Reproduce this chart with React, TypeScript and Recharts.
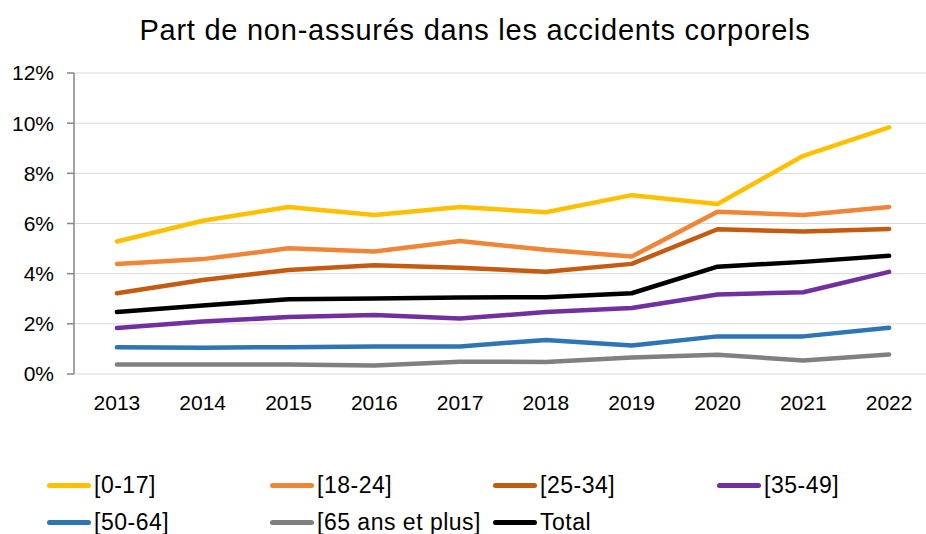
import { LineChart, Line, XAxis, YAxis, CartesianGrid } from 'recharts';

const years = ['2013', '2014', '2015', '2016', '2017', '2018', '2019', '2020', '2021', '2022'];

// part de non-assurés, en %
const age0_17 = [5.28, 6.11, 6.66, 6.34, 6.66, 6.45, 7.13, 6.78, 8.7, 9.83];
const age18_24 = [4.39, 4.58, 5.01, 4.88, 5.3, 4.95, 4.68, 6.47, 6.34, 6.66];
const age25_34 = [3.22, 3.75, 4.15, 4.34, 4.24, 4.08, 4.39, 5.77, 5.68, 5.78];
const age35_49 = [1.83, 2.09, 2.27, 2.35, 2.21, 2.47, 2.63, 3.17, 3.26, 4.07];
const age50_64 = [1.07, 1.05, 1.07, 1.1, 1.1, 1.36, 1.14, 1.5, 1.5, 1.84];
const age65plus = [0.38, 0.38, 0.38, 0.34, 0.49, 0.48, 0.66, 0.77, 0.54, 0.78];
const total = [2.47, 2.73, 2.98, 3.01, 3.05, 3.06, 3.22, 4.28, 4.47, 4.71];

const yTicks = [0, 2, 4, 6, 8, 10, 12];
const edgeTicks = [0, 1, 2, 3, 4, 5, 6, 7, 8, 9, 10];

const SERIES = [
  { key: 'a0', name: '[0-17]', values: age0_17, color: '#FFC000' },
  { key: 'a18', name: '[18-24]', values: age18_24, color: '#F08537' },
  { key: 'a25', name: '[25-34]', values: age25_34, color: '#C55A11' },
  { key: 'a35', name: '[35-49]', values: age35_49, color: '#7030A0' },
  { key: 'a50', name: '[50-64]', values: age50_64, color: '#2E75B6' },
  { key: 'a65', name: '[65 ans et plus]', values: age65plus, color: '#808080' },
  { key: 'tot', name: 'Total', values: total, color: '#000000' },
];

const FONT = "'Liberation Sans', Arial, sans-serif";

const chartData = years.map((y, i) => {
  const row: Record<string, string | number> = { year: y, idx: i + 0.5 };
  SERIES.forEach((s) => {
    row[s.key] = s.values[i];
  });
  return row;
});

// excel-style legend, 4 columns
const LEGEND_COLS = [47, 270, 493, 717];
const LEGEND_ROWS = [485, 522];

export default function App() {
  return (
    <div
      style={{
        position: 'absolute',
        left: 0,
        top: 0,
        width: 926,
        height: 534,
        overflow: 'hidden',
        background: '#fff',
        fontFamily: FONT,
      }}
    >
      <div
        style={{
          position: 'absolute',
          left: 0,
          top: 12,
          width: 950,
          textAlign: 'center',
          fontSize: 29,
          letterSpacing: '0.75px',
          color: '#000',
          lineHeight: '36px',
        }}
      >
        Part de non-assurés dans les accidents corporels
      </div>

      <LineChart
        width={945}
        height={534}
        data={chartData}
        margin={{ top: 73, right: 13, left: 14, bottom: 130 }}
      >
        <CartesianGrid vertical={false} stroke="#D9D9D9" strokeWidth={1} />
        {/* tick marks between categories */}
        <XAxis
          xAxisId="edges"
          type="number"
          dataKey="idx"
          domain={[0, 10]}
          ticks={edgeTicks}
          tick={false}
          tickSize={7}
          tickLine={{ stroke: '#868686', strokeWidth: 1.5 }}
          axisLine={{ stroke: '#868686', strokeWidth: 1.5 }}
          height={0}
        />
        <XAxis
          dataKey="year"
          xAxisId="cat"
          height={30}
          padding={{ left: 42.9, right: 42.9 }}
          tickLine={false}
          tickSize={0}
          tickMargin={21}
          axisLine={false}
          tick={{ fill: '#000', fontSize: 21, fontFamily: FONT }}
          interval={0}
        />
        <YAxis
          width={60}
          domain={[0, 12]}
          ticks={yTicks}
          interval={0}
          tickSize={7}
          tickMargin={13}
          tickFormatter={(v: number) => `${v}%`}
          tickLine={{ stroke: '#868686', strokeWidth: 1.5 }}
          axisLine={{ stroke: '#868686', strokeWidth: 1.5 }}
          tick={{ fill: '#000', fontSize: 21, fontFamily: FONT }}
        />
        {SERIES.map((s) => (
          <Line
            key={s.key}
            xAxisId="cat"
            type="linear"
            dataKey={s.key}
            name={s.name}
            stroke={s.color}
            strokeWidth={4.5}
            strokeLinecap="round"
            strokeLinejoin="round"
            dot={false}
            activeDot={false}
            isAnimationActive={false}
          />
        ))}
      </LineChart>

      {SERIES.map((s, i) => {
        const col = i % 4;
        const row = Math.floor(i / 4);
        return (
          <div
            key={s.key}
            style={{
              position: 'absolute',
              left: LEGEND_COLS[col],
              top: LEGEND_ROWS[row] - 14,
              height: 28,
              display: 'flex',
              alignItems: 'center',
              whiteSpace: 'nowrap',
            }}
          >
            <span
              style={{
                width: 44,
                height: 5,
                borderRadius: 3,
                background: s.color,
                marginRight: 3,
              }}
            />
            <span style={{ fontSize: 23, letterSpacing: '0.5px', color: '#000' }}>{s.name}</span>
          </div>
        );
      })}
    </div>
  );
}
